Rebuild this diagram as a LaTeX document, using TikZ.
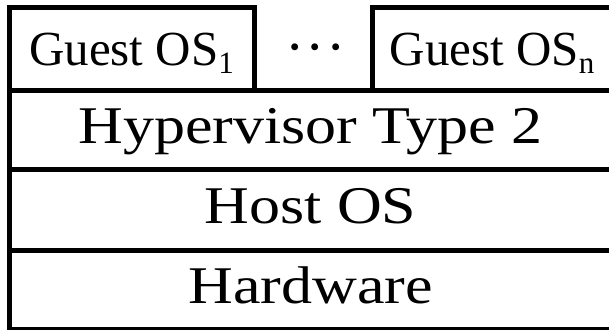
\documentclass[tikz,border=0pt]{standalone}
\usepackage{fontspec}
\setmainfont{Liberation Serif}
\usepackage{graphicx}
\newcommand{\subdown}[1]{\raisebox{-8pt}{\fontsize{31}{31}\selectfont #1}}
\begin{document}
\begin{tikzpicture}[x=1pt,y=-1pt,
  layerbox/.style={draw, line width=5pt, inner sep=0pt, outer sep=0pt},
  bigtext/.style={anchor=base, inner sep=0pt, font=\fontsize{53}{60}\selectfont},
  guesttext/.style={anchor=base, inner sep=0pt, font=\fontsize{49}{56}\selectfont}]
\useasboundingbox (0,0) rectangle (609,329);
\clip (0,0) rectangle (609,329);
% boxes
\node[layerbox, minimum width=245pt, minimum height=82.5pt] (g1) at (131.5,48.75) {};
\node[layerbox, minimum width=240pt, minimum height=82.5pt] (gn) at (492,48.75) {};
\node[layerbox, minimum width=603pt, minimum height=79.5pt] (hv) at (310.5,129.75) {};
\node[layerbox, minimum width=603pt, minimum height=80.5pt] (ho) at (310.5,209.75) {};
\node[layerbox, minimum width=603pt, minimum height=79.5pt] (hw) at (310.5,289.75) {};
% labels
\node[guesttext] (g1t) at ([yshift=-17pt]g1.center) {Guest OS\subdown{1}};
\node[guesttext] (gnt) at ([yshift=-17pt]gn.center) {Guest OS\subdown{n}};
\node[guesttext, font=\fontsize{58}{60}\selectfont] (dots) at (315.5,66) {·\hspace{1pt}·\hspace{1pt}·};
\node[bigtext] (hvt) at ([yshift=-14pt]hv.center) {\scalebox{1.17}[1]{Hypervisor Type 2}};
\node[bigtext] (hot) at ([yshift=-13.5pt]ho.center) {\scalebox{1.17}[1]{Host OS}};
\node[bigtext] (hwt) at ([yshift=-13.5pt]hw.center) {\scalebox{1.17}[1]{Hardware}};
\end{tikzpicture}
\end{document}
